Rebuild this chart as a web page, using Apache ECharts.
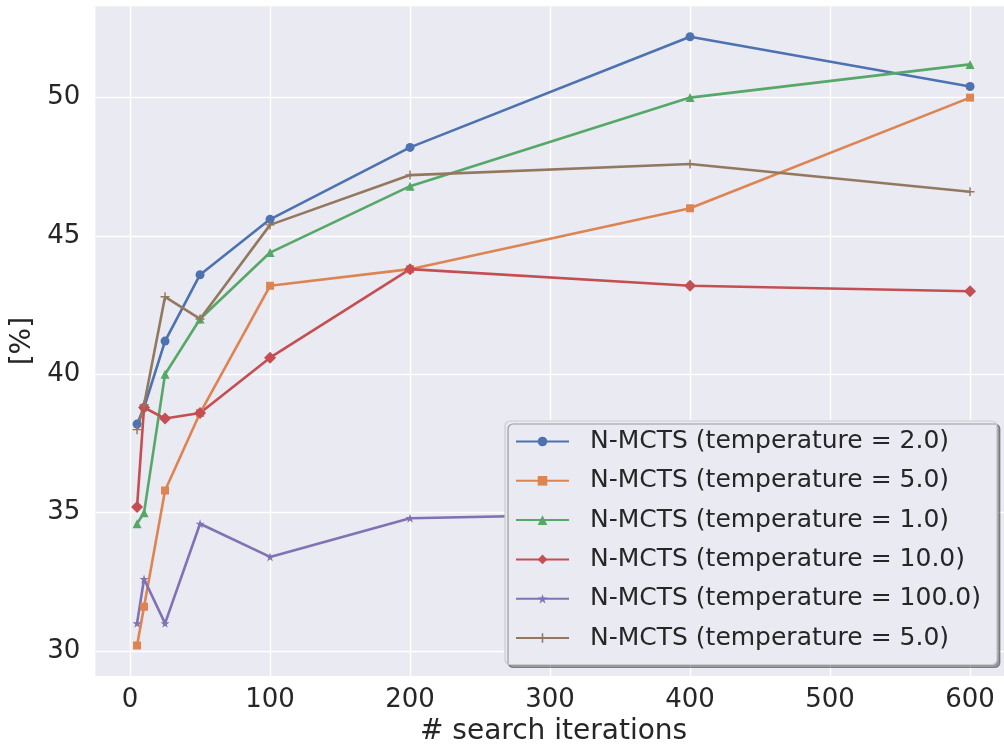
<!DOCTYPE html>
<html>
<head>
<meta charset="utf-8">
<script src="https://cdn.jsdelivr.net/npm/echarts@6/dist/echarts.min.js"></script>
<style>
  html, body { margin: 0; padding: 0; background: #ffffff; }
  #chart { width: 1004px; height: 749px; }
</style>
</head>
<body>
<div id="chart"></div>
<script>
// Search budget on the x axis
const iterations = [5, 10, 25, 50, 100, 200, 400, 600];

// Success rate [%] per softmax temperature
const temp2   = [38.2, 38.8, 41.2, 43.6, 45.6, 48.2, 52.2, 50.4];
const temp5   = [30.2, 31.6, 35.8, 38.6, 43.2, 43.8, 46.0, 50.0];
const temp1   = [34.6, 35.0, 40.0, 42.0, 44.4, 46.8, 50.0, 51.2];
const temp10  = [35.2, 38.8, 38.4, 38.6, 40.6, 43.8, 43.2, 43.0];
const temp100 = [31.0, 32.6, 31.0, 34.6, 33.4, 34.8, 35.0, 35.2];
const temp5b  = [38.0, 38.9, 42.8, 42.0, 45.4, 47.2, 47.6, 46.6];

const seriesLabels = [
  'N-MCTS (temperature = 2.0)',
  'N-MCTS (temperature = 5.0)',
  'N-MCTS (temperature = 1.0)',
  'N-MCTS (temperature = 10.0)',
  'N-MCTS (temperature = 100.0)',
  'N-MCTS (temperature = 5.0)'
];
const seriesKeys = ['t2', 't5', 't1', 't10', 't100', 't5b'];

const xTicks = [0, 100, 200, 300, 400, 500, 600];
const yTicks = [30, 35, 40, 45, 50];

const colors = ['#4c72b0', '#dd8452', '#55a868', '#c44e52', '#8172b3', '#937860'];

const STAR = 'path://M50,0 L61.2,34.5 L97.6,34.5 L68.2,55.9 L79.4,90.5 L50,69.1 L20.6,90.5 L31.8,55.9 L2.4,34.5 L38.8,34.5 Z';
const PLUS = 'path://M42,0 L58,0 L58,42 L100,42 L100,58 L58,58 L58,100 L42,100 L42,58 L0,58 L0,42 L42,42 Z';

const markers = [
  { symbol: 'circle', size: 9 },
  { symbol: 'rect', size: 8 },
  { symbol: 'triangle', size: 9 },
  { symbol: 'diamond', size: 12 },
  { symbol: STAR, size: 9 },
  { symbol: PLUS, size: 9 }
];

const values = [temp2, temp5, temp1, temp10, temp100, temp5b];

const series = values.map((vals, i) => ({
  name: seriesKeys[i],
  type: 'line',
  data: iterations.map((x, j) => [x, vals[j]]),
  symbol: markers[i].symbol,
  symbolSize: markers[i].size,
  showAllSymbol: true,
  clip: false,
  lineStyle: { color: colors[i], width: 2.6 },
  itemStyle: { color: colors[i], borderWidth: 0 },
  emphasis: { disabled: true },
  z: 2,
  zlevel: 0
}));

const labelByKey = {};
seriesKeys.forEach((k, i) => { labelByKey[k] = seriesLabels[i]; });

const chart = echarts.init(document.getElementById('chart'), null, { renderer: 'canvas' });
chart.setOption({
  animation: false,
  color: colors,
  textStyle: { fontFamily: 'DejaVu Sans' },
  grid: {
    left: 95.4,
    top: 6.3,
    width: 916.3,
    height: 669.6,
    show: true,
    backgroundColor: '#eaeaf2',
    borderWidth: 0,
    containLabel: false,
    outerBoundsMode: 'none'
  },
  xAxis: {
    type: 'value',
    min: -24.75,
    max: 629.75,
    name: '# search iterations',
    nameLocation: 'middle',
    nameGap: 42,
    nameTextStyle: { fontSize: 28, color: '#262626', fontFamily: 'DejaVu Sans' },
    axisLine: { show: false },
    axisTick: { show: false, customValues: xTicks },
    axisLabel: {
      customValues: xTicks,
      fontSize: 26,
      color: '#262626',
      margin: 11,
      fontFamily: 'DejaVu Sans'
    },
    splitLine: { show: true, lineStyle: { color: '#ffffff', width: 1.4 } }
  },
  yAxis: {
    type: 'value',
    min: 29.1,
    max: 53.3,
    name: '[%]',
    nameLocation: 'middle',
    nameGap: 53,
    nameRotate: 90,
    nameTextStyle: { fontSize: 28, color: '#262626', fontFamily: 'DejaVu Sans' },
    axisLine: { show: false },
    axisTick: { show: false, customValues: yTicks },
    axisLabel: {
      customValues: yTicks,
      fontSize: 26,
      color: '#262626',
      margin: 15,
      fontFamily: 'DejaVu Sans'
    },
    splitLine: { show: true, lineStyle: { color: '#ffffff', width: 1.4 } }
  },
  legend: {
    orient: 'vertical',
    left: 505,
    top: 421,
    z: 20,
    data: seriesKeys,
    formatter: (name) => labelByKey[name],
    itemWidth: 53,
    itemHeight: 12,
    itemGap: 14.3,
    padding: [8, 16, 14, 10],
    backgroundColor: '#eaeaf2',
    borderColor: '#cccccc',
    borderWidth: 1.2,
    borderRadius: 5,
    shadowColor: 'rgba(0,0,0,0.35)',
    shadowBlur: 0,
    shadowOffsetX: 3,
    shadowOffsetY: 3,
    selectedMode: false,
    textStyle: {
      fontSize: 25,
      lineHeight: 25,
      color: '#262626',
      fontFamily: 'DejaVu Sans',
      padding: [0, 0, 0, 16]
    }
  },
  series: series
});
</script>
</body>
</html>
